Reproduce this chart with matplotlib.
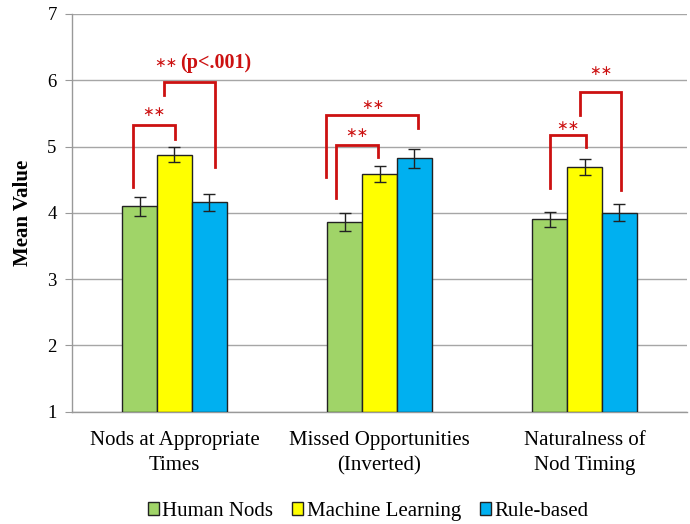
import matplotlib
matplotlib.use("Agg")
import matplotlib.pyplot as plt
import numpy as np

categories = ["Nods at Appropriate\nTimes", "Missed Opportunities\n(Inverted)",
              "Naturalness of\nNod Timing"]
series = ["Human Nods", "Machine Learning", "Rule-based"]
human = [4.10, 3.86, 3.90]
machine = [4.88, 4.58, 4.69]
rule = [4.16, 4.82, 4.00]
human_err = [0.14, 0.14, 0.12]
machine_err = [0.11, 0.12, 0.12]
rule_err = [0.13, 0.14, 0.13]

# significance brackets: (group, x_left, y_left, x_right, y_right, y_top, note, label_y)
# x offsets relative to group centre, y in data units
brackets = [
    (0, -0.200, 4.39, 0.002, 5.12, 5.32, "", 5.52),
    (0, -0.051, 5.78, 0.200, 4.69, 5.97, "(p<.001)", 6.26),
    (1, -0.211, 4.23, -0.008, 4.85, 5.02, "", 5.21),
    (1, -0.259, 4.54, 0.190, 5.28, 5.48, "", 5.62),
    (2, -0.169, 4.38, 0.009, 5.00, 5.17, "", 5.31),
    (2, -0.023, 5.47, 0.179, 4.34, 5.83, "", 6.14),
]

colors = ["#a0d468", "#ffff00", "#00b0f0"]
red = "#cc1111"
serif = ["Liberation Serif", "DejaVu Serif"]
plt.rcParams["font.family"] = serif

fig = plt.figure(figsize=(6.9, 5.24), dpi=100)
ax = fig.add_axes([0.1043, 0.2143, 0.8914, 0.7590])

x = np.arange(len(categories))
w = 0.17
for i, (vals, errs) in enumerate([(human, human_err), (machine, machine_err),
                                  (rule, rule_err)]):
    ax.bar(x + (i - 1) * w, np.array(vals) - 1, w, bottom=1, color=colors[i],
           edgecolor="#222222", linewidth=1.0, label=series[i], zorder=3)
    ax.errorbar(x + (i - 1) * w, vals, yerr=errs, fmt="none", ecolor="#222222",
                elinewidth=1.0, capsize=4, capthick=1.0, zorder=4)

for g, xl, yl, xr, yr, yt, note, ly in brackets:
    ax.plot([g + xl, g + xl, g + xr, g + xr], [yl, yt, yt, yr], color=red,
            lw=2, solid_joinstyle="miter", zorder=5)
    cx = g + (xl + xr) / 2
    if not note:
        ax.text(cx, ly, "\u2217\u2217", color=red, ha="center", va="center",
                fontsize=10, family=["DejaVu Sans"])
    else:
        ax.text(cx - 0.06, ly, "\u2217\u2217", color=red, ha="right",
                va="center", fontsize=10, family=["DejaVu Sans"])
        ax.text(cx - 0.045, ly, note, color=red, ha="left", va="center",
                fontsize=14.5, fontweight="bold")

ax.set_xlim(-0.5, 2.5)
ax.set_ylim(1, 7)
ax.set_yticks(range(1, 8))
ax.set_xticks(x)
ax.set_xticklabels(categories, fontsize=15, linespacing=1.4)
ax.tick_params(axis="x", length=0, pad=14)
ax.tick_params(axis="y", length=5, color="#999999", labelsize=13.5, pad=6)
ax.yaxis.grid(True, color="#a6a6a6", lw=1.0, zorder=0)
for s in ("top", "right"):
    ax.spines[s].set_visible(False)
for s in ("left", "bottom"):
    ax.spines[s].set_color("#999999")
    ax.spines[s].set_linewidth(1.0)
ax.set_ylabel("Mean Value", fontsize=15, fontweight="bold")
ax.yaxis.set_label_coords(-0.063, 0.5)

fig.legend(*ax.get_legend_handles_labels(), loc="center",
           bbox_to_anchor=(368 / 690, 0.024), ncol=3, frameon=False,
           fontsize=15, handlelength=0.55, handleheight=0.55,
           handletextpad=0.15, columnspacing=0.9, borderpad=0)

fig.savefig("out.png", dpi=100)
